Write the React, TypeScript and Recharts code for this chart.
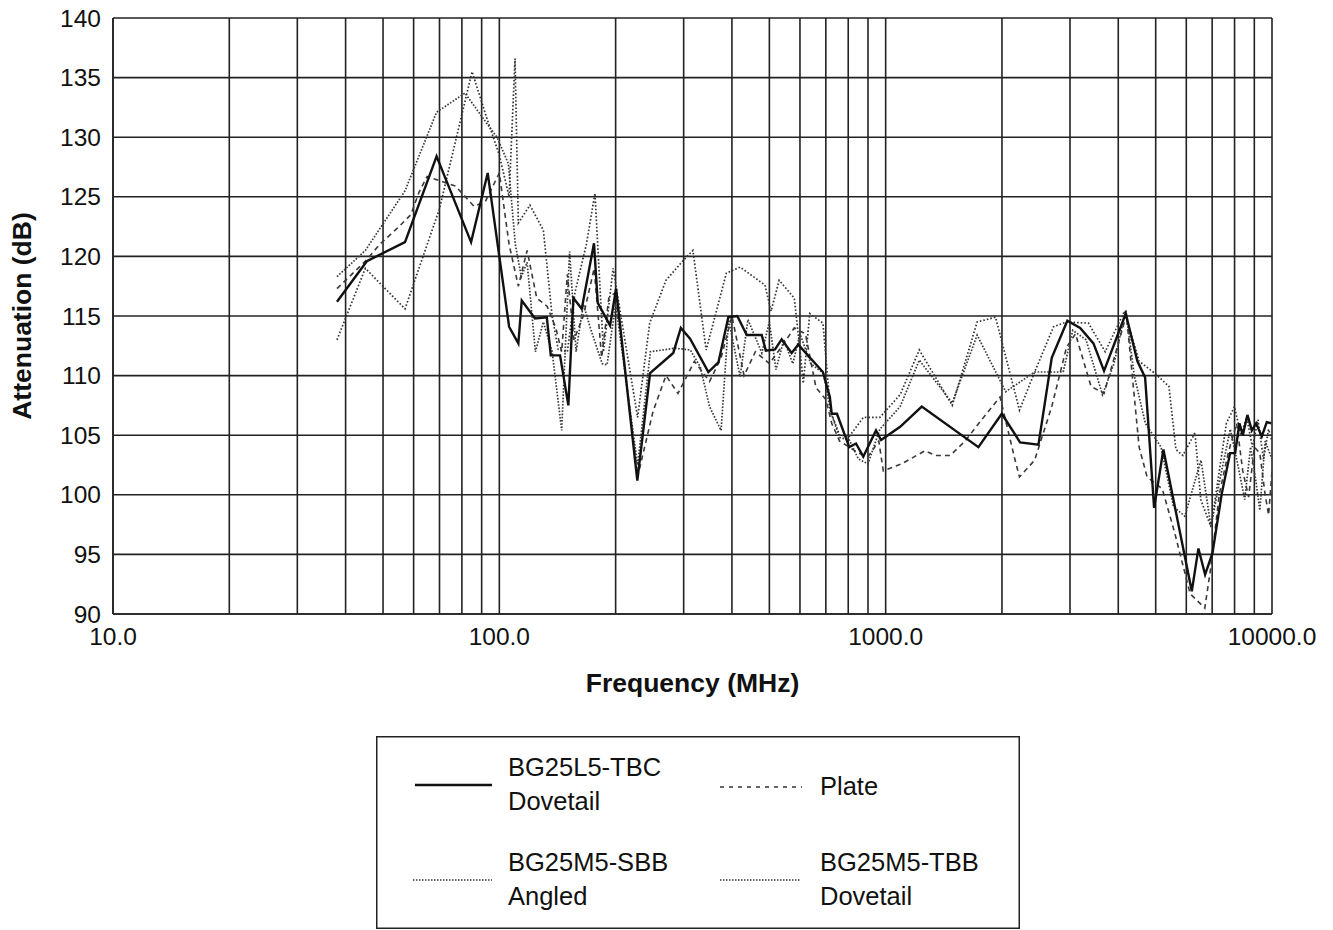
import React from 'react';
import { LineChart, Line, XAxis, YAxis, CartesianGrid, Label } from 'recharts';

// Axis ticks
const xTicks = [
  10, 20, 30, 40, 50, 60, 70, 80, 90,
  100, 200, 300, 400, 500, 600, 700, 800, 900,
  1000, 2000, 3000, 4000, 5000, 6000, 7000, 8000, 9000, 10000,
];
const xLabelTicks = [10, 100, 1000, 10000];
const yTicks = [90, 95, 100, 105, 110, 115, 120, 125, 130, 135, 140];

// Series: [frequency MHz, attenuation dB]
const tbcDovetail: [number, number][] = [
  [38, 116.2], [45.4, 119.6], [57, 121.2], [68.8, 128.4], [84.5, 121.2], [93.3, 127.0],
  [106, 114.1], [112, 112.7], [114.3, 116.3], [123.7, 114.8], [132.7, 114.9], [135.9, 111.7],
  [143.6, 111.7], [150.9, 107.5], [155.5, 116.5], [163.4, 115.6], [175.8, 121.1], [179.8, 116.1],
  [193.5, 114.2], [200.5, 117.3], [227.6, 101.2], [245.6, 110.2], [282, 111.9], [295, 114.0],
  [311.7, 113.1], [347.6, 110.3], [369, 111.1], [391.5, 114.9], [413, 115.0], [437, 113.4],
  [477.8, 113.4], [489.5, 112.1], [517, 112.2], [538, 113.05], [571, 111.9], [594, 112.6],
  [688, 110.3], [717, 108.2], [725, 106.8], [748, 106.8], [805, 104.0], [838, 104.3],
  [875, 103.2], [944, 105.4], [973, 104.6], [1090, 105.7], [1240, 107.4], [1738, 104.0],
  [1998, 106.8], [2228, 104.4], [2486, 104.2], [2691, 111.5], [2953, 114.6], [3187, 114.0],
  [3450, 112.7], [3675, 110.4], [4183, 115.2], [4484, 111.2], [4694, 109.85], [4953, 98.9],
  [5235, 103.8], [6200, 91.9], [6450, 95.5], [6712, 93.3], [7012, 95.1], [7413, 100.1],
  [7791, 103.5], [8028, 103.5], [8235, 106.0], [8403, 105.0], [8637, 106.7], [8867, 105.4],
  [9097, 106.0], [9409, 104.9], [9694, 106.1], [9950, 106.0],
];

const plate: [number, number][] = [
  [38, 117.3], [45, 119.6], [49, 121.0], [55, 122.5], [59, 123.5], [62, 125.4], [65, 126.7],
  [77, 125.9], [86, 124.2], [92, 124.6], [100, 127.0], [106, 121.0], [112, 117.5], [118, 120.5],
  [125, 116.5], [133, 115.8], [140, 114.0], [145, 112.0], [150, 118.5], [156, 113.0], [165, 115.0],
  [176, 119.0], [184, 111.5], [192, 116.5], [200, 117.0], [228, 101.5], [250, 107.0], [270, 110.0],
  [290, 108.5], [320, 111.2], [350, 109.5], [375, 111.5], [400, 115.0], [430, 110.0], [460, 112.0],
  [500, 111.0], [540, 112.5], [580, 114.0], [620, 113.5], [660, 109.0], [700, 108.0], [725, 106.0],
  [760, 104.5], [805, 104.0], [850, 103.5], [900, 103.2], [960, 104.5], [986, 102.0], [1100, 102.6],
  [1265, 103.7], [1345, 103.3], [1468, 103.3], [1600, 104.45], [1772, 106.3], [1977, 108.2],
  [2167, 102.8], [2220, 101.5], [2430, 102.9], [2691, 107.4], [2940, 112.4], [3100, 113.5],
  [3400, 109.1], [3675, 108.5], [4200, 115.1], [4530, 104.0], [4750, 101.5], [5200, 100.5],
  [5600, 96.8], [6140, 91.7], [6700, 90.5], [6950, 94.0], [7300, 100.0], [7700, 103.5],
  [8100, 106.0], [8400, 102.0], [8700, 99.8], [9000, 104.0], [9300, 103.5], [9600, 100.0],
  [9800, 98.3], [10000, 102.0],
];

const sbbAngled: [number, number][] = [
  [38, 118.3], [45, 120.5], [57, 125.5], [68.8, 132.1], [81.5, 133.7], [92.6, 131.2], [98.6, 130.0],
  [105.5, 127.8], [110, 121.0], [114, 118.3], [118, 119.5], [124, 112.0], [130, 114.5], [137, 112.0],
  [145, 105.4], [152, 120.4], [158, 112.0], [165, 116.0], [172, 114.0], [184.6, 111.0], [190, 110.9],
  [200, 116.0], [228, 102.5], [246, 112.0], [285, 112.3], [312, 112.15], [331, 110.75], [350, 107.4],
  [375, 105.4], [392, 114.7], [420, 109.9], [440, 114.7], [478, 111.9], [500, 114.5], [520, 110.5],
  [545, 113.0], [575, 111.0], [600, 113.5], [640, 111.0], [690, 110.2], [720, 107.0], [760, 104.8],
  [805, 104.6], [850, 103.0], [900, 102.6], [966, 105.5], [1090, 107.4], [1222, 111.3], [1487, 107.7],
  [1725, 113.4], [2045, 108.65], [2430, 110.3], [2880, 110.3], [3050, 113.8], [3300, 113.0],
  [3640, 108.4], [3900, 111.0], [4183, 115.5], [4400, 110.0], [4700, 106.0], [5160, 104.0],
  [5560, 99.0], [5950, 98.2], [6220, 100.4], [6550, 102.9], [6950, 97.3], [7300, 101.0],
  [7800, 105.5], [8100, 103.0], [8500, 99.6], [8800, 104.0], [9100, 101.0], [9300, 98.7],
  [9600, 104.5], [10000, 103.0],
];

const tbbDovetail: [number, number][] = [
  [38, 113.0], [45, 119.0], [57, 115.6], [70, 124.0], [85, 135.5], [93, 131.5], [100, 128.5],
  [106, 125.0], [109.8, 136.6], [112, 122.8], [120, 124.3], [130, 122.2], [137, 115.0], [142, 112.2],
  [150, 112.0], [157, 117.0], [168, 121.0], [176.8, 125.3], [186, 112.0], [197, 119.0], [228, 106.5],
  [245, 114.4], [270, 118.0], [300, 119.7], [317, 120.5], [343, 112.15], [387, 118.6], [420, 119.1],
  [487, 117.6], [505, 115.4], [530, 118.0], [580, 116.5], [600, 112.15], [612, 109.35], [636, 115.2],
  [688, 114.4], [720, 107.0], [760, 105.0], [805, 104.9], [876, 106.5], [966, 106.5], [1090, 108.4],
  [1222, 112.15], [1487, 107.5], [1725, 114.5], [1925, 114.9], [2220, 107.1], [2430, 110.3],
  [2720, 114.1], [2940, 114.5], [3350, 114.4], [3700, 112.0], [4150, 115.4], [4530, 111.2],
  [4970, 110.2], [5410, 109.1], [5640, 103.8], [5880, 103.3], [6320, 105.2], [6540, 99.6],
  [6950, 97.3], [7620, 106.0], [8000, 107.4], [8300, 105.0], [8600, 106.5], [8900, 104.0],
  [9200, 106.3], [9500, 103.0], [9800, 105.5], [10000, 104.5],
];

const toRows = (pts: [number, number][]) => pts.map(([f, v]) => ({ f, v }));

const FONT = '"Liberation Sans", Arial, Helvetica, sans-serif';

const YTitle = (props: any) => {
  const vb = props.viewBox || {};
  const x = (vb.x || 0) + 14;
  const y = (vb.y || 0) + (vb.height || 0) / 2;
  return (
    <text
      x={x}
      y={y}
      transform={`rotate(-90 ${x} ${y})`}
      textAnchor="middle"
      dominantBaseline="central"
      fontFamily={FONT}
      fontWeight="bold"
      fontSize={26.5}
      fill="#111"
    >
      Attenuation (dB)
    </text>
  );
};

const XTitle = (props: any) => {
  const vb = props.viewBox || {};
  const x = (vb.x || 0) + (vb.width || 0) / 2;
  const y = (vb.y || 0) + 69;
  return (
    <text
      x={x}
      y={y}
      textAnchor="middle"
      dominantBaseline="central"
      fontFamily={FONT}
      fontWeight="bold"
      fontSize={26.5}
      fill="#111"
    >
      Frequency (MHz)
    </text>
  );
};

const legendItems = [
  { name: ['BG25L5-TBC', 'Dovetail'], lx: 39, lw: 77, ly: 49, tx: 132, ty: 31, dash: undefined, color: '#111', width: 2.3 },
  { name: ['Plate'], lx: 344, lw: 82, ly: 51, tx: 444, ty: 50, dash: '4 5', color: '#333', width: 1.6 },
  { name: ['BG25M5-SBB', 'Angled'], lx: 37, lw: 79, ly: 144, tx: 132, ty: 126, dash: '1.5 1.5', color: '#333', width: 1.6 },
  { name: ['BG25M5-TBB', 'Dovetail'], lx: 344, lw: 80, ly: 144, tx: 444, ty: 126, dash: '1.5 1.5', color: '#333', width: 1.6 },
];

export default function App() {
  return (
    <div style={{ position: 'relative', width: 1317, height: 922, fontFamily: FONT }}>
      <style>{'html{overflow:hidden}'}</style>
      <div style={{ position: 'absolute', left: 0, top: -8 }}>
        <LineChart width={1317} height={708} margin={{ top: 18, right: 53, bottom: 14, left: 0 }}>
          <CartesianGrid stroke="#222" strokeWidth={1.6} />
          <XAxis
            dataKey="f"
            type="number"
            scale="log"
            domain={[10, 10000]}
            allowDataOverflow
            ticks={xTicks}
            interval={0}
            tickFormatter={(v: number) => (xLabelTicks.includes(v) ? v.toFixed(1) : '')}
            tickSize={0}
            tickMargin={14}
            height={80}
            stroke="#222"
            strokeWidth={1.6}
            tick={{ fill: '#111', fontSize: 24.5, fontFamily: FONT }}
          >
            <Label content={<XTitle />} />
          </XAxis>
          <YAxis
            type="number"
            domain={[90, 140]}
            ticks={yTicks}
            interval={0}
            allowDataOverflow
            tickSize={0}
            tickMargin={12}
            width={105}
            stroke="#222"
            strokeWidth={1.6}
            tick={{ fill: '#111', fontSize: 24.5, fontFamily: FONT }}
          >
            <Label content={<YTitle />} />
          </YAxis>
          <Line
            data={toRows(plate)}
            dataKey="v"
            type="linear"
            stroke="#3a3a3a"
            strokeWidth={1.6}
            strokeDasharray="5 4"
            dot={false}
            isAnimationActive={false}
          />
          <Line
            data={toRows(sbbAngled)}
            dataKey="v"
            type="linear"
            stroke="#3a3a3a"
            strokeWidth={1.7}
            strokeDasharray="1.6 1.6"
            dot={false}
            isAnimationActive={false}
          />
          <Line
            data={toRows(tbbDovetail)}
            dataKey="v"
            type="linear"
            stroke="#333"
            strokeWidth={1.7}
            strokeDasharray="1.6 2"
            dot={false}
            isAnimationActive={false}
          />
          <Line
            data={toRows(tbcDovetail)}
            dataKey="v"
            type="linear"
            stroke="#111"
            strokeWidth={2.4}
            dot={false}
            isAnimationActive={false}
          />
        </LineChart>
      </div>
      <svg
        width={644}
        height={193}
        style={{ position: 'absolute', left: 368, top: 728 }}
      >
        <rect x={0.75} y={0.75} width={642.5} height={191.5} fill="#fff" stroke="#222" strokeWidth={1.5} />
        {legendItems.map((it, i) => (
          <g key={i}>
            <line
              x1={it.lx}
              x2={it.lx + it.lw}
              y1={it.ly}
              y2={it.ly}
              stroke={it.color}
              strokeWidth={it.width}
              strokeDasharray={it.dash}
            />
            {it.name.map((t, j) => (
              <text
                key={j}
                x={it.tx}
                y={it.ty + j * 34}
                dominantBaseline="central"
                fontFamily={FONT}
                fontSize={25.5}
                fill="#111"
              >
                {t}
              </text>
            ))}
          </g>
        ))}
      </svg>
    </div>
  );
}
